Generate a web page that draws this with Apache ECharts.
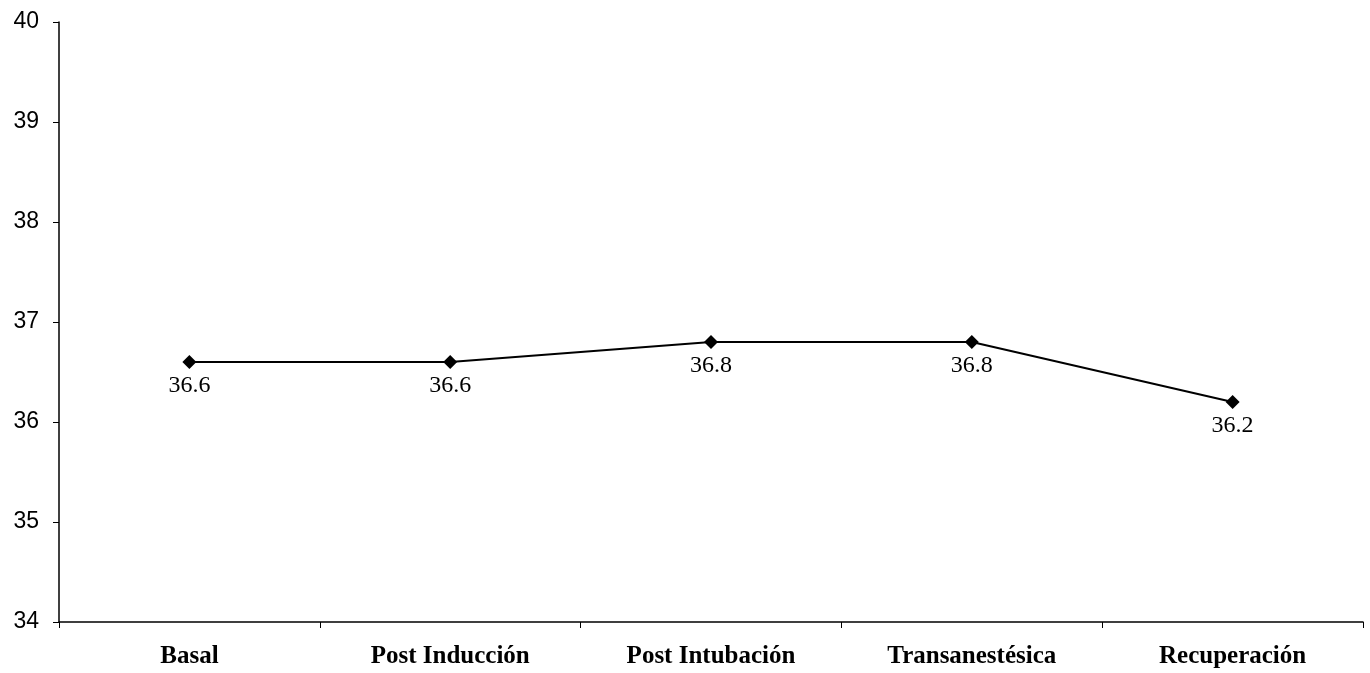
<!DOCTYPE html>
<html><head><meta charset="utf-8">
<script src="https://cdn.jsdelivr.net/npm/echarts@6/dist/echarts.min.js"></script>
<style>html,body{margin:0;padding:0;background:#fff}#c{width:1370px;height:673px}</style>
</head><body><div id="c"></div>
<script>
const categories = ["Basal", "Post Inducción", "Post Intubación", "Transanestésica", "Recuperación"];
const values = [36.6, 36.6, 36.8, 36.8, 36.2];
const yMin = 34, yMax = 40, yStep = 1;

const chart = echarts.init(document.getElementById('c'));
chart.setOption({
  animation: false,
  grid: {left: 59, right: 7, top: 22, bottom: 51},
  xAxis: {
    type: 'category', data: categories, boundaryGap: true,
    axisLine: {lineStyle: {color: '#000', width: 1.5}},
    axisTick: {show: true, length: 6, inside: false, lineStyle: {color: '#000'}},
    axisLabel: {color: '#000', fontFamily: 'Liberation Serif', fontWeight: 'bold', fontSize: 25, margin: 22}
  },
  yAxis: {
    type: 'value', min: yMin, max: yMax, interval: yStep,
    splitLine: {show: false},
    axisLine: {show: true, lineStyle: {color: '#000', width: 1.5}},
    axisTick: {show: true, length: 6, lineStyle: {color: '#000'}},
    axisLabel: {color: '#000', fontFamily: 'Liberation Sans', fontSize: 23, margin: 20}
  },
  series: [{
    type: 'line', data: values,
    symbol: 'diamond', symbolSize: 14,
    lineStyle: {color: '#000', width: 2},
    itemStyle: {color: '#000'},
    label: {show: true, position: 'bottom', distance: 5, color: '#000',
      fontFamily: 'Liberation Serif', fontSize: 24,
      formatter: p => p.value.toFixed(1)}
  }]
});
</script></body></html>
